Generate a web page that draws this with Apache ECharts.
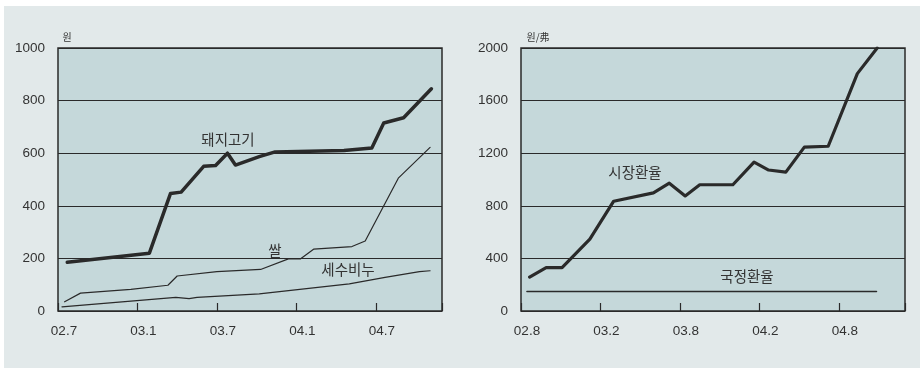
<!DOCTYPE html>
<html>
<head>
<meta charset="utf-8">
<script src="https://cdn.jsdelivr.net/npm/echarts@6/dist/echarts.min.js"></script>
<style>
  html, body { margin: 0; padding: 0; background: #fff; }
  #chart { width: 920px; height: 368px; }
</style>
</head>
<body>
<div id="chart"></div>
<script>
// months counted from 2002.7 (left) and 2002.8 (right)
const leftXLabels = ["02.7", "03.1", "03.7", "04.1", "04.7"];
const rightXLabels = ["02.8", "03.2", "03.8", "04.2", "04.8"];

// 돼지고기
const porkX = [0.7, 6.9, 8.5, 9.3, 11.0, 11.9, 12.8, 13.4, 15.2, 16.4, 21.6, 23.7, 24.6, 26.1, 28.2];
const porkY = [185, 220, 447, 452, 550, 553, 600, 555, 587, 605, 610, 620, 715, 735, 845];
// 쌀
const riceX = [0.5, 1.7, 5.5, 8.3, 9.0, 12.0, 15.3, 17.4, 18.3, 19.3, 22.2, 23.2, 25.7, 28.1];
const riceY = [35, 68, 82, 98, 133, 150, 158, 198, 198, 235, 245, 266, 505, 622];
// 세수비누
const soapX = [0.3, 8.9, 9.9, 10.5, 15.2, 22.0, 24.7, 27.3, 28.1];
const soapY = [16, 52, 47, 52, 65, 103, 128, 150, 153];

// 시장환율
const marketX = [0.65, 1.9, 3.1, 5.2, 7.0, 10.0, 11.2, 12.4, 13.5, 16.0, 17.6, 18.7, 20.0, 21.4, 23.2, 25.4, 26.9];
const marketY = [258, 330, 330, 546, 835, 898, 972, 875, 960, 960, 1132, 1072, 1056, 1246, 1253, 1805, 2000];
// 국정환율
const officialX = [0.45, 26.85];
const officialY = [148, 148];

const zip = (xs, ys) => xs.map((x, i) => [x, ys[i]]);
const FONT = '"Liberation Sans", Arial, sans-serif';
const KFONT = '"Noto Sans CJK KR", sans-serif';
const INK = "#2a2a2a";

const chart = echarts.init(document.getElementById("chart"));

function xAxis(gridIndex, labels) {
  return {
    type: "value",
    gridIndex: gridIndex,
    min: 0,
    max: 29,
    interval: 6,
    axisLine: { show: false },
    axisTick: { show: true, inside: true, length: 8, lineStyle: { color: INK, width: 1.2 } },
    splitLine: { show: false },
    axisLabel: {
      color: "#333",
      fontFamily: FONT,
      fontSize: 13.5,
      margin: 13,
      padding: [0, 0, 0, 12],
      formatter: (v) => (v % 6 === 0 ? labels[v / 6] || "" : ""),
    },
  };
}

function yAxis(gridIndex, max, interval) {
  return {
    type: "value",
    gridIndex: gridIndex,
    min: 0,
    max: max,
    interval: interval,
    axisLine: { show: false },
    axisTick: { show: false },
    splitLine: { show: true, lineStyle: { color: INK, width: 1 } },
    axisLabel: { color: "#333", fontFamily: FONT, fontSize: 13.5, margin: 13, formatter: (v) => String(v) },
  };
}

function line(name, xi, data, width) {
  return {
    name: name,
    type: "line",
    xAxisIndex: xi,
    yAxisIndex: xi,
    data: data,
    symbol: "none",
    silent: true,
    lineStyle: { color: INK, width: width, join: "round", cap: "round" },
    z: 3,
  };
}

function label(text, x, y, size) {
  return {
    type: "text",
    x: x,
    y: y,
    style: { text: text, fill: "#333", font: size + "px " + KFONT, align: "center", verticalAlign: "middle" },
  };
}

const options = {
  animation: false,
  backgroundColor: "#ffffff",
  graphic: [
    { type: "rect", shape: { x: 4, y: 6, width: 916, height: 362 }, style: { fill: "#e2e9ea" }, z: -10 },
    label("원", 67, 37, 10),
    label("원/弗", 538, 37, 10),
    label("돼지고기", 228, 139, 14.5),
    label("쌀", 275, 250, 14.5),
    label("세수비누", 348, 269, 14.5),
    label("시장환율", 635, 172, 14.5),
    label("국정환율", 747, 276, 14.5),
  ],
  grid: [
    { left: 58, top: 48, width: 384, height: 263, show: true, backgroundColor: "#c5d8da", borderColor: INK, borderWidth: 1.5 },
    { left: 521, top: 48, width: 384, height: 263, show: true, backgroundColor: "#c5d8da", borderColor: INK, borderWidth: 1.5 },
  ],
  xAxis: [xAxis(0, leftXLabels), xAxis(1, rightXLabels)],
  yAxis: [yAxis(0, 1000, 200), yAxis(1, 2000, 400)],
  series: [
    line("돼지고기", 0, zip(porkX, porkY), 3.5),
    line("쌀", 0, zip(riceX, riceY), 1.2),
    line("세수비누", 0, zip(soapX, soapY), 1.2),
    line("시장환율", 1, zip(marketX, marketY), 3.2),
    line("국정환율", 1, zip(officialX, officialY), 1.5),
  ],
};

chart.setOption(options);
</script>
</body>
</html>
